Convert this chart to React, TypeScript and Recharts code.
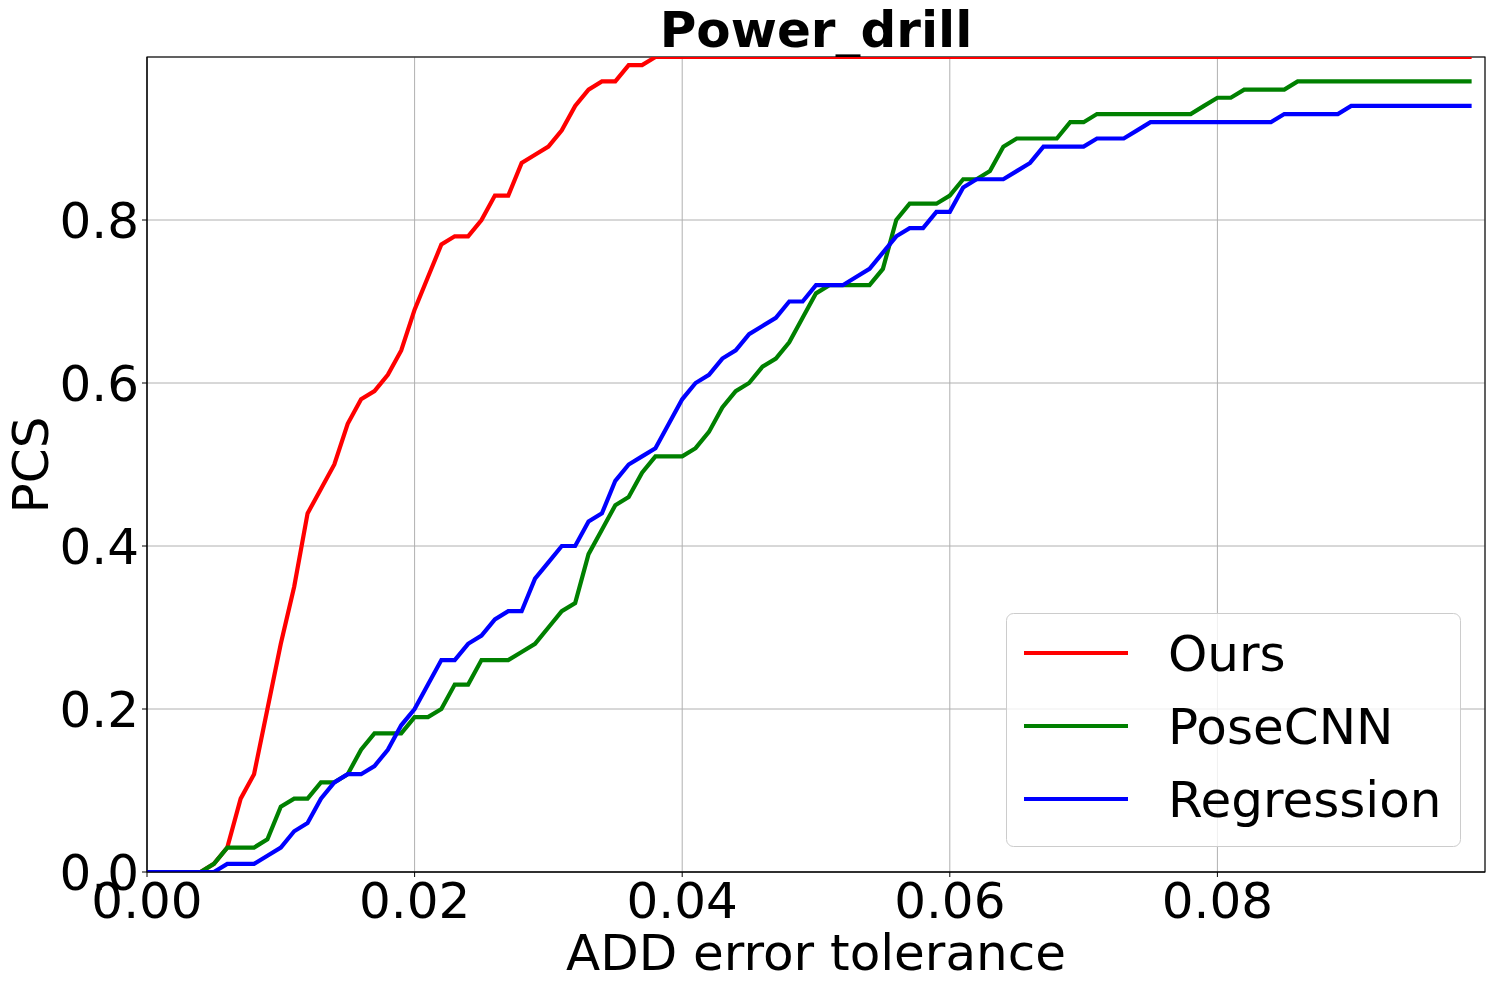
import { LineChart, Line, XAxis, YAxis, CartesianGrid } from "recharts";

// ADD error tolerance (x) and PCS per method
const tolerance = [
  0, 0.001, 0.002, 0.003, 0.004, 0.005, 0.006, 0.007, 0.008, 0.009,
  0.01, 0.011, 0.012, 0.013, 0.014, 0.015, 0.016, 0.017, 0.018, 0.019,
  0.02, 0.021, 0.022, 0.023, 0.024, 0.025, 0.026, 0.027, 0.028, 0.029,
  0.03, 0.031, 0.032, 0.033, 0.034, 0.035, 0.036, 0.037, 0.038, 0.039,
  0.04, 0.041, 0.042, 0.043, 0.044, 0.045, 0.046, 0.047, 0.048, 0.049,
  0.05, 0.051, 0.052, 0.053, 0.054, 0.055, 0.056, 0.057, 0.058, 0.059,
  0.06, 0.061, 0.062, 0.063, 0.064, 0.065, 0.066, 0.067, 0.068, 0.069,
  0.07, 0.071, 0.072, 0.073, 0.074, 0.075, 0.076, 0.077, 0.078, 0.079,
  0.08, 0.081, 0.082, 0.083, 0.084, 0.085, 0.086, 0.087, 0.088, 0.089,
  0.09, 0.091, 0.092, 0.093, 0.094, 0.095, 0.096, 0.097, 0.098, 0.099,
];

const ours = [
  0, 0, 0, 0, 0, 0.01, 0.03, 0.09, 0.12, 0.2,
  0.28, 0.35, 0.44, 0.47, 0.5, 0.55, 0.58, 0.59, 0.61, 0.64,
  0.69, 0.73, 0.77, 0.78, 0.78, 0.8, 0.83, 0.83, 0.87, 0.88,
  0.89, 0.91, 0.94, 0.96, 0.97, 0.97, 0.99, 0.99, 1, 1,
  1, 1, 1, 1, 1, 1, 1, 1, 1, 1,
  1, 1, 1, 1, 1, 1, 1, 1, 1, 1,
  1, 1, 1, 1, 1, 1, 1, 1, 1, 1,
  1, 1, 1, 1, 1, 1, 1, 1, 1, 1,
  1, 1, 1, 1, 1, 1, 1, 1, 1, 1,
  1, 1, 1, 1, 1, 1, 1, 1, 1, 1,
];

const poseCnn = [
  0, 0, 0, 0, 0, 0.01, 0.03, 0.03, 0.03, 0.04,
  0.08, 0.09, 0.09, 0.11, 0.11, 0.12, 0.15, 0.17, 0.17, 0.17,
  0.19, 0.19, 0.2, 0.23, 0.23, 0.26, 0.26, 0.26, 0.27, 0.28,
  0.3, 0.32, 0.33, 0.39, 0.42, 0.45, 0.46, 0.49, 0.51, 0.51,
  0.51, 0.52, 0.54, 0.57, 0.59, 0.6, 0.62, 0.63, 0.65, 0.68,
  0.71, 0.72, 0.72, 0.72, 0.72, 0.74, 0.8, 0.82, 0.82, 0.82,
  0.83, 0.85, 0.85, 0.86, 0.89, 0.9, 0.9, 0.9, 0.9, 0.92,
  0.92, 0.93, 0.93, 0.93, 0.93, 0.93, 0.93, 0.93, 0.93, 0.94,
  0.95, 0.95, 0.96, 0.96, 0.96, 0.96, 0.97, 0.97, 0.97, 0.97,
  0.97, 0.97, 0.97, 0.97, 0.97, 0.97, 0.97, 0.97, 0.97, 0.97,
];

const regression = [
  0, 0, 0, 0, 0, 0, 0.01, 0.01, 0.01, 0.02,
  0.03, 0.05, 0.06, 0.09, 0.11, 0.12, 0.12, 0.13, 0.15, 0.18,
  0.2, 0.23, 0.26, 0.26, 0.28, 0.29, 0.31, 0.32, 0.32, 0.36,
  0.38, 0.4, 0.4, 0.43, 0.44, 0.48, 0.5, 0.51, 0.52, 0.55,
  0.58, 0.6, 0.61, 0.63, 0.64, 0.66, 0.67, 0.68, 0.7, 0.7,
  0.72, 0.72, 0.72, 0.73, 0.74, 0.76, 0.78, 0.79, 0.79, 0.81,
  0.81, 0.84, 0.85, 0.85, 0.85, 0.86, 0.87, 0.89, 0.89, 0.89,
  0.89, 0.9, 0.9, 0.9, 0.91, 0.92, 0.92, 0.92, 0.92, 0.92,
  0.92, 0.92, 0.92, 0.92, 0.92, 0.93, 0.93, 0.93, 0.93, 0.93,
  0.94, 0.94, 0.94, 0.94, 0.94, 0.94, 0.94, 0.94, 0.94, 0.94,
];

const xTicks = [0, 0.02, 0.04, 0.06, 0.08];
const yTicks = [0, 0.2, 0.4, 0.6, 0.8];

const series = [
  { key: "ours", name: "Ours", color: "#ff0000" },
  { key: "posecnn", name: "PoseCNN", color: "#008000" },
  { key: "regression", name: "Regression", color: "#0000ff" },
];

const data = tolerance.map((t, i) => ({
  tol: t,
  ours: ours[i],
  posecnn: poseCnn[i],
  regression: regression[i],
}));

const FONT = "'DejaVu Sans', sans-serif";
const tickStyle = { fontSize: 50, fill: "#000", fontFamily: FONT };

export default function App() {
  return (
    <div style={{ position: "absolute", left: 0, top: 0, width: 1492, height: 986, background: "#fff" }}>
      <LineChart
        width={1492}
        height={986}
        data={data}
        margin={{ top: 57, right: 7, bottom: 0, left: 0 }}
        style={{ fontFamily: FONT }}
      >
        <CartesianGrid stroke="#b0b0b0" strokeWidth={1} />
        <XAxis
          dataKey="tol"
          type="number"
          domain={[0, 0.1]}
          ticks={xTicks}
          tickFormatter={(v: number) => v.toFixed(2)}
          height={114}
          tick={tickStyle}
          tickSize={5}
          tickMargin={5}
          stroke="#000"
          allowDataOverflow
        />
        <YAxis
          type="number"
          domain={[0, 1]}
          ticks={yTicks}
          tickFormatter={(v: number) => v.toFixed(1)}
          width={147}
          tick={tickStyle}
          tickSize={5}
          tickMargin={3}
          stroke="#000"
          allowDataOverflow
        />
        {series.map((s) => (
          <Line
            key={s.key}
            type="linear"
            dataKey={s.key}
            name={s.name}
            stroke={s.color}
            strokeWidth={4.2}
            dot={false}
            activeDot={false}
            isAnimationActive={false}
          />
        ))}
        {/* axes frame drawn above the lines, like matplotlib spines */}
        <rect x={147} y={57} width={1338} height={815} fill="none" stroke="#000" strokeWidth={1.1} />
        <text x={816} y={47} textAnchor="middle" fontSize={50} fontWeight="bold" fontFamily={FONT} fill="#000">
          Power_drill
        </text>
        <text x={816} y={970} textAnchor="middle" fontSize={50} fontFamily={FONT} fill="#000">
          ADD error tolerance
        </text>
        <text
          x={31}
          y={465}
          textAnchor="middle"
          dominantBaseline="central"
          transform="rotate(-90 31 465)"
          fontSize={50}
          fontFamily={FONT}
          fill="#000"
        >
          PCS
        </text>
        <g>
          <rect x={1006.5} y={613.5} width={454} height={233} rx={7} fill="#fff" fillOpacity={0.8} stroke="#cccccc" />
          {series.map((s, i) => (
            <g key={s.key}>
              <line x1={1024} x2={1128} y1={653 + 73 * i} y2={653 + 73 * i} stroke={s.color} strokeWidth={4.2} />
              <text x={1168} y={671 + 73 * i} fontSize={50} fontFamily={FONT} fill="#000">
                {s.name}
              </text>
            </g>
          ))}
        </g>
      </LineChart>
    </div>
  );
}
